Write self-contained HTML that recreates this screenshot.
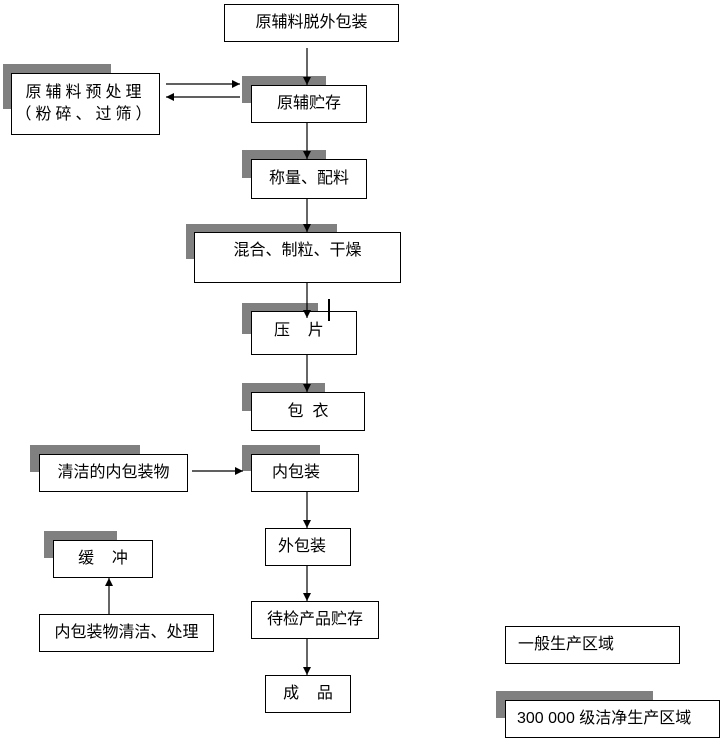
<!DOCTYPE html>
<html><head><meta charset="utf-8"><style>
body{margin:0;width:720px;height:741px;background:#fff;position:relative;overflow:hidden;font-family:"Liberation Sans","Noto Sans CJK SC","WenQuanYi Zen Hei",sans-serif;}
.s{position:absolute;background:#808080;}
.b{position:absolute;background:#fff;border:1px solid #000;box-sizing:border-box;font-size:16px;color:#000;display:flex;align-items:center;justify-content:center;white-space:nowrap;line-height:22px;}
svg{position:absolute;left:0;top:0}
</style></head><body>
<div class="b" style="left:224px;top:4px;width:175px;height:38px">原辅料脱外包装</div>

<div class="s" style="left:3px;top:64px;width:108px;height:45px"></div>
<div class="b" style="left:11px;top:73px;width:149px;height:62px;flex-direction:column;letter-spacing:4px"><span>原辅料预处理</span><span>（粉碎、过筛）</span></div>

<div class="s" style="left:242px;top:76px;width:84px;height:27px"></div>
<div class="b" style="left:251px;top:85px;width:116px;height:38px">原辅贮存</div>

<div class="s" style="left:242px;top:150px;width:84px;height:28px"></div>
<div class="b" style="left:251px;top:159px;width:116px;height:40px">称量、配料</div>

<div class="s" style="left:186px;top:224px;width:151px;height:35px"></div>
<div class="b" style="left:194px;top:232px;width:207px;height:51px;align-items:flex-start;padding-top:7px">混合、制粒、干燥</div>

<div class="s" style="left:242px;top:303px;width:76px;height:31px"></div>
<div class="b" style="left:251px;top:311px;width:106px;height:44px;justify-content:flex-start;padding-left:22px;align-items:flex-start;padding-top:8px">压&nbsp;&nbsp;&nbsp;&nbsp;片</div>

<div class="s" style="left:242px;top:383px;width:83px;height:28px"></div>
<div class="b" style="left:251px;top:392px;width:114px;height:39px">包&nbsp;&nbsp;衣</div>

<div class="s" style="left:30px;top:445px;width:110px;height:27px"></div>
<div class="b" style="left:39px;top:454px;width:149px;height:38px">清洁的内包装物</div>

<div class="s" style="left:242px;top:445px;width:78px;height:26px"></div>
<div class="b" style="left:251px;top:454px;width:108px;height:38px;justify-content:flex-start;padding-left:20px">内包装</div>

<div class="b" style="left:265px;top:528px;width:86px;height:38px;justify-content:flex-start;padding-left:12px">外包装</div>

<div class="s" style="left:44px;top:531px;width:73px;height:27px"></div>
<div class="b" style="left:53px;top:540px;width:100px;height:38px">缓&nbsp;&nbsp;&nbsp;&nbsp;冲</div>

<div class="b" style="left:39px;top:614px;width:175px;height:38px">内包装物清洁、处理</div>

<div class="b" style="left:251px;top:601px;width:128px;height:38px">待检产品贮存</div>

<div class="b" style="left:265px;top:675px;width:86px;height:38px">成&nbsp;&nbsp;&nbsp;&nbsp;品</div>

<div class="b" style="left:505px;top:626px;width:175px;height:38px;justify-content:flex-start;padding-left:12px">一般生产区域</div>
<div class="s" style="left:496px;top:691px;width:157px;height:27px"></div>
<div class="b" style="left:505px;top:700px;width:215px;height:38px;justify-content:flex-start;padding-left:11px">300 000 级洁净生产区域</div>

<svg width="720" height="741">
<defs><marker id="a" markerWidth="8" markerHeight="8" refX="8" refY="4" orient="auto" markerUnits="userSpaceOnUse"><path d="M0,0L8,4L0,8z" fill="#000"/></marker></defs>
<g stroke="#000" stroke-width="1.2" fill="none" marker-end="url(#a)">
<line x1="307" y1="48" x2="307" y2="85"/>
<line x1="307" y1="123" x2="307" y2="159"/>
<line x1="307" y1="199" x2="307" y2="232"/>
<line x1="307" y1="283" x2="307" y2="318"/>
<line x1="307" y1="355" x2="307" y2="392"/>
<line x1="307" y1="492" x2="307" y2="528"/>
<line x1="307" y1="566" x2="307" y2="601"/>
<line x1="307" y1="639" x2="307" y2="675"/>
<line x1="166" y1="84" x2="240" y2="84"/>
<line x1="240" y1="97" x2="166" y2="97"/>
<line x1="192" y1="471" x2="243" y2="471"/>
<line x1="109" y1="614" x2="109" y2="578"/>
</g>
<line x1="329" y1="299" x2="329" y2="321" stroke="#000" stroke-width="2"/>
</svg>
</body></html>
